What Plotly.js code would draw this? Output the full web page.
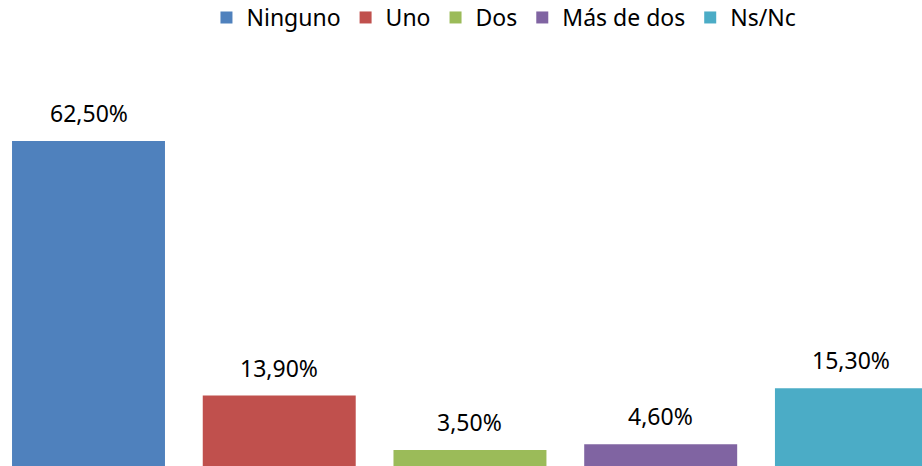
<!DOCTYPE html>
<html>
<head>
<meta charset="utf-8">
<script src="https://cdn.plot.ly/plotly-3.0.1.min.js"></script>
<style>html,body{margin:0;padding:0;background:#fff;}#chart{width:922px;height:466px;}</style>
</head>
<body>
<div id="chart"></div>
<script>
const categories = ["Ninguno", "Uno", "Dos", "Más de dos", "Ns/Nc"];
const values = [62.5, 13.9, 3.5, 4.6, 15.3];
const labels = ["62,50%", "13,90%", "3,50%", "4,60%", "15,30%"];
const colors = ["#4F81BD", "#C0504D", "#9BBB59", "#8064A2", "#4BACC6"];

const FONT = "Noto Sans, Open Sans, sans-serif";

const traces = categories.map((name, i) => ({
  type: "bar",
  name: name,
  x: [i],
  y: [values[i]],
  width: 0.802,
  marker: {color: colors[i], line: {width: 0}},
  hoverinfo: "skip"
}));

const annotations = categories.map((name, i) => ({
  x: i,
  y: values[i],
  xref: "x",
  yref: "y",
  text: labels[i],
  showarrow: false,
  yanchor: "middle",
  yshift: 28,
  font: {family: FONT, size: 23, color: "#000000"}
}));

const layout = {
  width: 922,
  height: 466,
  margin: {l: 0, r: 0, t: 60, b: 0, pad: 0, autoexpand: false},
  paper_bgcolor: "#ffffff",
  plot_bgcolor: "#ffffff",
  barmode: "overlay",
  showlegend: true,
  legend: {
    orientation: "h",
    x: 0.5466,
    xanchor: "center",
    y: 1.1576,
    yref: "paper",
    yanchor: "top",
    font: {family: FONT, size: 23, color: "#000000"},
    itemclick: false,
    itemdoubleclick: false,
    traceorder: "normal",
    tracegroupgap: 0
  },
  xaxis: {
    range: [-0.464, 4.370],
    showgrid: false,
    zeroline: false,
    showline: false,
    showticklabels: false,
    ticks: "",
    fixedrange: true,
    automargin: false
  },
  yaxis: {
    range: [0.44, 77.97],
    showgrid: false,
    zeroline: false,
    showline: false,
    showticklabels: false,
    ticks: "",
    fixedrange: true,
    automargin: false
  },
  annotations: annotations
};

Plotly.newPlot("chart", traces, layout, {displayModeBar: false, staticPlot: true});
</script>
</body>
</html>
